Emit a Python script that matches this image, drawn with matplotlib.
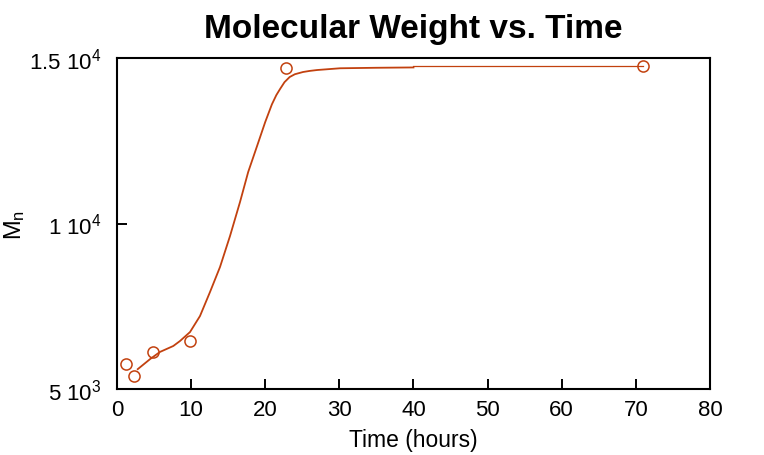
import matplotlib
matplotlib.use("Agg")
import matplotlib.pyplot as plt

plt.rcParams['font.family'] = ['Liberation Sans', 'DejaVu Sans']
plt.rcParams['mathtext.default'] = 'regular'

# measured points
time_h = [1.2, 2.3, 4.9, 9.85, 22.8, 71.0]
mn = [5755, 5393, 6118, 6450, 14698, 14758]

# smooth curve
curve_x = [2.8, 4.5, 5.8, 7.6, 8.5, 9.85, 11.2, 12.55, 13.9, 15.25, 16.6, 17.7,
           18.9, 20.0, 20.9, 21.5, 22.0, 22.6, 23.3, 24.0, 25.1, 26.0, 27.0,
           30.1, 35.0, 40.0]
curve_y = [5600, 5910, 6120, 6300, 6450, 6720, 7205, 7930, 8686, 9622, 10650, 11555,
           12341, 13066, 13600, 13880, 14063, 14270, 14426, 14510, 14577, 14610, 14637,
           14690, 14705, 14715]
tail_x = [40.0, 71.0]
tail_y = [14760, 14760]

xticks = [0, 10, 20, 30, 40, 50, 60, 70, 80]
yticks = [5000, 10000, 15000]
ylabels = [r'5 10$^{3}$', r'1 10$^{4}$', r'1.5 10$^{4}$']

col = '#c2410f'

fig = plt.figure(figsize=(7.64, 4.56), dpi=100)
ax = fig.add_axes([0.1531, 0.1447, 0.7762, 0.7259])

ax.plot(curve_x, curve_y, color=col, lw=1.3)
ax.plot(tail_x, tail_y, color=col, lw=0.9)
ax.plot(time_h, mn, 'o', mfc='none', mec=col, mew=1.1, ms=8)

ax.set_xlim(0, 80)
ax.set_ylim(5000, 15000)
ax.set_xticks(xticks)
ax.set_yticks(yticks)
ax.set_yticklabels(ylabels)
ax.tick_params(direction='in', length=7, width=1.4, labelsize=16, colors='black')
ax.tick_params(axis='x', pad=7)
ax.tick_params(axis='y', pad=11)
for s in ax.spines.values():
    s.set_linewidth(1.5)

ax.set_xlabel('Time (hours)', fontsize=16.5, labelpad=6)
ax.set_ylabel(r'M$_{n}$', fontsize=17, labelpad=2)
ax.set_title('Molecular Weight vs. Time', fontsize=24, fontweight='bold', pad=15)

fig.savefig('out.png', dpi=100)
